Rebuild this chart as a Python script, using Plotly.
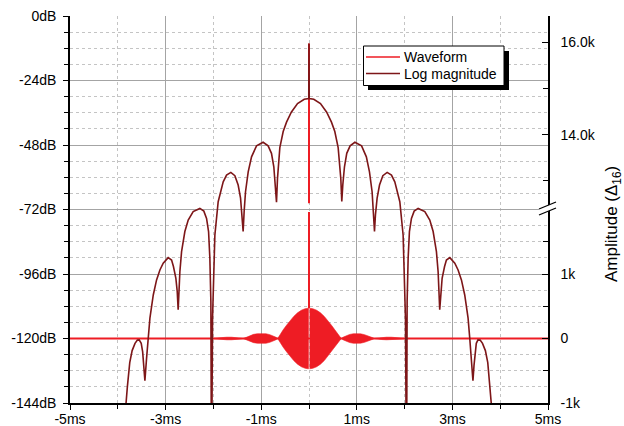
import plotly.graph_objects as go

# ---------------- data ----------------
# Log magnitude curve (time in ms, level in dB)
lm_t = [-3.90, -3.86, -3.83, -3.80, -3.75, -3.70, -3.64, -3.59, -3.552, -3.51, -3.48, -3.455, -3.433,
        -3.398, -3.363, -3.328, -3.258, -3.189, -3.119, -3.05, -2.946, -2.875, -2.836, -2.785, -2.757, -2.737,
        -2.701, -2.666, -2.597, -2.527, -2.423, -2.283, -2.20, -2.143, -2.101, -2.074, -2.053, -2.04,
        -2.018, -1.997, -1.969, -1.90, -1.795, -1.725, -1.635, -1.551, -1.482, -1.432, -1.398, -1.378,
        -1.357, -1.328, -1.272, -1.202, -1.098, -0.96, -0.855, -0.785, -0.736, -0.701, -0.68,
        -0.659, -0.61, -0.54, -0.47, -0.37, -0.24, -0.10, -0.005, 0.0, 0.005,
        0.10, 0.24, 0.37, 0.47, 0.54, 0.61, 0.665, 0.686,
        0.707, 0.742, 0.79, 0.86, 0.96, 1.10, 1.20, 1.265, 1.32, 1.35, 1.37,
        1.39, 1.425, 1.475, 1.545, 1.635, 1.725, 1.795, 1.90, 1.969, 1.997, 2.018, 2.04,
        2.053, 2.074, 2.101, 2.143, 2.20, 2.283, 2.423, 2.527, 2.597, 2.666, 2.701, 2.735,
        2.757, 2.785, 2.836, 2.875, 2.946, 3.05, 3.119, 3.189, 3.258, 3.328, 3.363, 3.398, 3.43,
        3.452, 3.475, 3.50, 3.535, 3.58, 3.63, 3.69, 3.74, 3.79, 3.815, 3.85, 3.89]
lm_db = [-160, -150, -144, -138, -129, -124.5, -121.8, -120.6, -120.5, -121.8, -125, -130, -135.7,
         -127.3, -119.9, -112.4, -103.8, -98.2, -94.5, -92.0, -89.9, -90.8, -93.2, -97.6, -102.5, -109.3,
         -95.1, -87.7, -80.2, -75.9, -72.8, -71.6, -72.6, -75.3, -80.2, -90.1, -106.2, -175,
         -112.4, -95.1, -81.5, -69.1, -61.7, -59.2, -58.2, -59.4, -62.9, -67.8, -74.0, -80.2,
         -72.8, -65.4, -58.0, -52.4, -48.3, -47.0, -48.3, -51.1, -56.1, -62.9, -69.3,
         -60.4, -49.0, -43.0, -39.5, -35.8, -32.6, -31.0, -30.7, -10.2, -30.7,
         -31.0, -32.6, -35.8, -39.5, -43.0, -49.0, -60.4, -69.0,
         -62.9, -56.1, -51.1, -48.3, -47.0, -48.3, -52.4, -58.0, -65.4, -72.8, -80.2,
         -74.0, -67.8, -62.9, -59.4, -58.2, -59.2, -61.7, -69.1, -81.5, -95.1, -112.4, -175,
         -106.2, -90.1, -80.2, -75.3, -72.6, -71.6, -72.8, -75.9, -80.2, -87.7, -95.1, -109.3,
         -102.5, -97.6, -93.2, -90.8, -89.9, -92.0, -94.5, -98.2, -103.8, -112.4, -119.9, -127.3, -135.7,
         -130, -125, -121.8, -120.5, -120.6, -121.8, -124.5, -129, -138, -144, -150, -160]

# Waveform envelope (filled oscillation), left and right of the centre sample
env_left_t = [-2.04, -1.95, -1.85, -1.72, -1.62, -1.52, -1.44, -1.378, -1.31, -1.24, -1.16, -1.08,
              -0.99, -0.90, -0.82, -0.75, -0.70, -0.655, -0.60, -0.54, -0.47, -0.40, -0.32, -0.24,
              -0.16, -0.08, -0.012]
env_left_a = [0, 8, 15, 20, 20, 16, 8, 0, 18, 45, 64, 74, 77, 73, 60, 42, 22, 0, 68, 135, 205, 275,
              342, 398, 438, 462, 470]
env_right_t = [0.012, 0.08, 0.16, 0.24, 0.32, 0.40, 0.47, 0.54, 0.61, 0.675, 0.72, 0.78, 0.85, 0.93,
               1.0, 1.08, 1.16, 1.24, 1.31, 1.37, 1.44, 1.52, 1.62, 1.72, 1.85, 1.95, 2.04]
env_right_a = [470, 462, 438, 398, 342, 275, 205, 135, 62, 0, 22, 45, 63, 74, 77, 72, 60, 42, 18, 0,
               8, 16, 20, 20, 15, 8, 0]

# Waveform baseline + central sample (lower part of the broken axis)
wf_line_t = [-5.0, 5.0, None, 0.0, 0.0]
wf_line_v = [0, 0, None, 470, 1960]
# Central sample in the upper part of the broken axis
wf_top_t = [0.0, 0.0]
wf_top_v = [12520, 15980]

# Ticks
x_tickvals = [-5, -3, -1, 1, 3, 5]
x_ticktext = ["-5ms", "-3ms", "-1ms", "1ms", "3ms", "5ms"]
db_tickvals = [0, -24, -48, -72, -96, -120, -144]
db_ticktext = ["0dB", "-24dB", "-48dB", "-72dB", "-96dB", "-120dB", "-144dB"]
amp_lo_tickvals = [-1000, 0, 1000]
amp_lo_ticktext = ["-1k", "0", "1k"]
amp_lo_minor = [-500, 500, 1500]
amp_hi_tickvals = [14000, 16000]
amp_hi_ticktext = ["14.0k", "16.0k"]
amp_hi_minor = [13000, 15000]

legend_names = ["Waveform", "Log magnitude"]

# ---------------- styling / layout ----------------
RED = "#ee1c24"
DARK = "#7d1618"
FONT = "Arial, 'Liberation Sans', sans-serif"
W, H = 624, 426
ML, MR, MT, MB = 70, 76, 16, 23
PW, PH = W - ML - MR, H - MT - MB


def px(xp):
    return (xp - ML) / PW


def py(yp):
    return (H - MB - yp) / PH


fig = go.Figure()

fx = env_left_t + env_left_t[::-1] + [None] + env_right_t + env_right_t[::-1]
fy = env_left_a + [-a for a in env_left_a[::-1]] + [None] + env_right_a + [-a for a in env_right_a[::-1]]
# main subplot (y): lower part of the broken amplitude axis
fig.add_trace(go.Scatter(x=fx, y=fy, yaxis="y", mode="lines", fill="toself",
                         fillcolor=RED, line=dict(width=0.6, color=RED),
                         showlegend=False, hoverinfo="skip"))
fig.add_trace(go.Scatter(x=wf_line_t, y=wf_line_v, yaxis="y", mode="lines", name=legend_names[0],
                         line=dict(color=RED, width=2), showlegend=False))
# overlay y2: upper part of the broken amplitude axis
fig.add_trace(go.Scatter(x=wf_top_t, y=wf_top_v, yaxis="y2", mode="lines", showlegend=False,
                         line=dict(color=RED, width=2)))
# overlay y3: dB axis (drawn last -> on top)
fig.add_trace(go.Scatter(x=lm_t, y=lm_db, yaxis="y3", mode="lines", name=legend_names[1],
                         line=dict(color=DARK, width=1.6), showlegend=False))

tf = dict(size=14, color="black", family=FONT)
axis_common = dict(showline=True, linecolor="black", linewidth=1.5, zeroline=False,
                   tickcolor="black", tickwidth=1.3, tickfont=tf, automargin=False, tickmode="array")

fig.update_layout(
    width=W, height=H,
    margin=dict(l=ML, r=MR, t=MT, b=MB, pad=0, autoexpand=False),
    paper_bgcolor="white", plot_bgcolor="white",
    font=dict(family=FONT, size=14, color="black"),
    showlegend=False,
    xaxis=dict(range=[-5, 5], tickvals=x_tickvals, ticktext=x_ticktext, ticks="outside", ticklen=5,
               showgrid=True, gridcolor="#a4a4a4", gridwidth=1.4, anchor="y", ticklabelstandoff=-3,
               minor=dict(tickmode="linear", tick0=0, dtick=1, ticks="outside", ticklen=4,
                          tickcolor="black", showgrid=True, gridcolor="#c4c4c4",
                          griddash="dot", gridwidth=1),
               **axis_common),
    yaxis=dict(range=[-1000, 5000], side="right", anchor="x",
               tickvals=amp_lo_tickvals, ticktext=amp_lo_ticktext, ticks="inside", ticklen=6,
               showgrid=False, ticklabelstandoff=8,
               minor=dict(tickmode="array", tickvals=amp_lo_minor, ticks="inside", ticklen=5,
                          tickcolor="black", showgrid=False),
               **axis_common),
    yaxis2=dict(range=[8189, 16575], overlaying="y", side="right", anchor="x",
                tickvals=amp_hi_tickvals, ticktext=amp_hi_ticktext, ticks="inside", ticklen=6,
                showgrid=False, ticklabelstandoff=8,
                minor=dict(tickmode="array", tickvals=amp_hi_minor, ticks="inside", ticklen=5,
                           tickcolor="black", showgrid=False),
                **axis_common),
    yaxis3=dict(range=[-144, 0], overlaying="y", side="left", anchor="x",
                tickvals=db_tickvals, ticktext=db_ticktext, ticks="outside", ticklen=5,
                showgrid=True, gridcolor="#a4a4a4", gridwidth=1.4, ticklabelstandoff=4,
                minor=dict(tickmode="linear", tick0=0, dtick=6, ticks="outside", ticklen=4,
                           tickcolor="black", showgrid=True, gridcolor="#c4c4c4",
                           griddash="dot", gridwidth=1),
                **axis_common),
)

# ---- hand-drawn legend (box, drop shadow, samples, labels) ----
fig.add_shape(type="rect", xref="paper", yref="paper", x0=px(368), x1=px(509), y0=py(90), y1=py(51),
              fillcolor="black", line=dict(width=0), layer="above")
fig.add_shape(type="rect", xref="paper", yref="paper", x0=px(363.5), x1=px(504), y0=py(85.5), y1=py(46),
              fillcolor="white", line=dict(width=1, color="black"), layer="above")
fig.add_shape(type="line", xref="paper", yref="paper", x0=px(366), x1=px(400), y0=py(57), y1=py(57),
              line=dict(color=RED, width=1.6), layer="above")
fig.add_shape(type="line", xref="paper", yref="paper", x0=px(366), x1=px(400), y0=py(73.5), y1=py(73.5),
              line=dict(color=DARK, width=1.6), layer="above")
for name, yy in zip(legend_names, [57, 74]):
    fig.add_annotation(text=name, xref="paper", yref="paper", x=px(402), y=py(yy), showarrow=False,
                       xanchor="left", yanchor="middle", font=dict(size=14, family=FONT, color="black"))

# ---- axis break mark on the right axis ----
fig.add_shape(type="path", xref="paper", yref="paper",
              path=f"M {px(539)},{py(209)} L {px(556)},{py(202)} L {px(556)},{py(208)} L {px(539)},{py(215)} Z",
              fillcolor="white", line=dict(width=0), layer="above")
fig.add_shape(type="line", xref="paper", yref="paper", x0=px(539), y0=py(209), x1=px(556), y1=py(202),
              line=dict(color="black", width=1.3), layer="above")
fig.add_shape(type="line", xref="paper", yref="paper", x0=px(539), y0=py(215), x1=px(556), y1=py(208),
              line=dict(color="black", width=1.3), layer="above")

fig.add_annotation(text="Amplitude (Δ<sub>16</sub>)", xref="paper", yref="paper", x=px(613), y=py(224),
                   textangle=-90, showarrow=False, xanchor="center", yanchor="middle",
                   font=dict(size=17, family=FONT, color="black"))

fig.write_html("out.html")
